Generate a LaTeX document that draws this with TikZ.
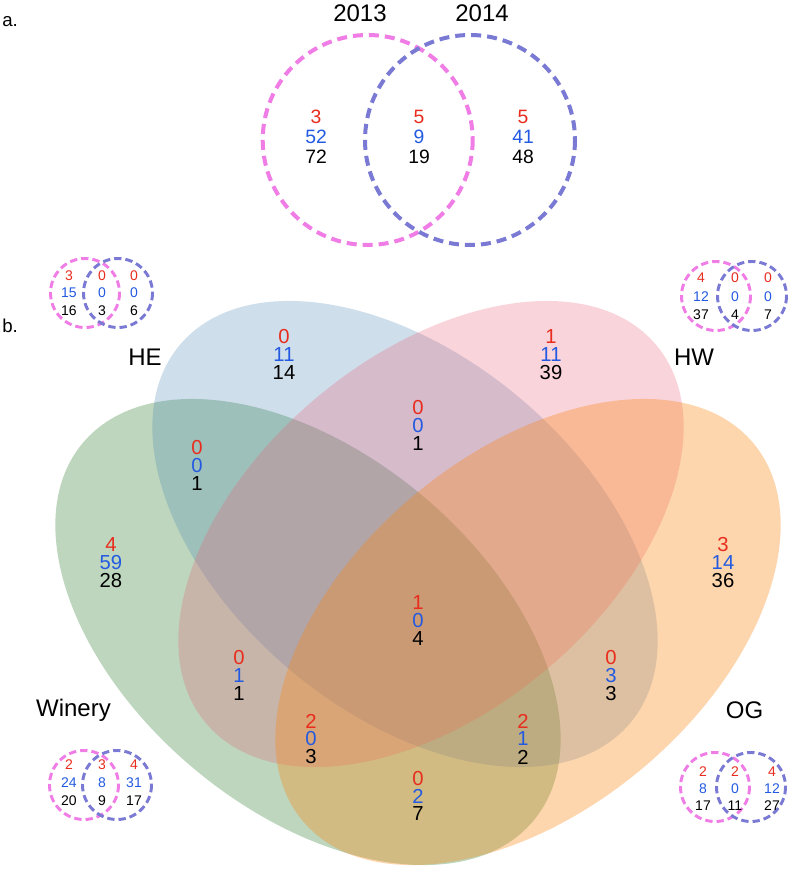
\documentclass[tikz,border=0pt]{standalone}
\usepackage{fontspec}
\setmainfont{Liberation Sans}
\definecolor{nred}{RGB}{232,45,30}
\definecolor{nblue}{RGB}{35,90,225}
\definecolor{dpink}{RGB}{240,125,230}
\definecolor{dblue}{RGB}{122,122,212}
\definecolor{cgreen}{RGB}{0,100,0}
\definecolor{cblue}{RGB}{70,130,180}
\definecolor{cpink}{RGB}{235,90,115}
\definecolor{corange}{RGB}{250,135,20}
\tikzset{
  numA/.style={font=\fontsize{14.5}{16}\selectfont, inner sep=0pt},
  numB/.style={font=\fontsize{15.2}{17}\selectfont, inner sep=0pt},
  numS/.style={font=\fontsize{10.5}{12}\selectfont, inner sep=0pt},
  lab/.style={font=\fontsize{18}{20}\selectfont, inner sep=0pt, anchor=base},
  panel/.style={font=\fontsize{14}{15}\selectfont, inner sep=0pt, anchor=base west},
  bigpink/.style={draw=dpink, line width=3pt, dash pattern=on 7.5pt off 4.5pt},
  bigblue/.style={draw=dblue, line width=3pt, dash pattern=on 7.5pt off 4.5pt},
  smpink/.style={draw=dpink, line width=2.2pt, dash pattern=on 5.5pt off 3pt},
  smblue/.style={draw=dblue, line width=2.2pt, dash pattern=on 5.5pt off 3pt},
  setfill/.style={fill opacity=0.26}
}
\newcommand{\trip}[8]{%
  \node[#5,text=nred] (#1r) at (#2,#3-#4) {#6};
  \node[#5,text=nblue] (#1b) at (#2,#3) {#7};
  \node[#5] (#1k) at (#2,#3+#4) {#8};}
\begin{document}
\begin{tikzpicture}[x=0.75pt,y=-0.75pt]
\useasboundingbox[fill=white] (0,0) rectangle (791,870);

% ---------- panel a ----------
\node[panel] (pa) at (2,27) {a.};
\node[lab] (y13) at (360,21.5) {2013};
\node[lab] (y14) at (482,21.5) {2014};
\path[bigpink] (367.7,140) circle [radius=105];
\path[bigblue] (470,140) circle [radius=105];
\trip{aL}{316}{137}{20}{numA}{3}{52}{72}
\trip{aM}{419}{137}{20}{numA}{5}{9}{19}
\trip{aR}{523}{137}{20}{numA}{5}{41}{48}

% ---------- panel b ----------
\node[panel] (pb) at (2,332) {b.};
\begin{scope}[setfill]
  \fill[cgreen, rotate around={-40:(308,632)}] (308,632) ellipse [x radius=294, y radius=178];
  \fill[cblue, rotate around={-40:(405,534)}] (405,534) ellipse [x radius=294, y radius=178];
  \fill[cpink, rotate around={40:(431,534)}] (431,534) ellipse [x radius=294, y radius=178];
  \fill[corange, fill opacity=0.34, rotate around={40:(528,632)}] (528,632) ellipse [x radius=294, y radius=178];
\end{scope}

\node[lab] (lHE) at (145,365) {HE};
\node[lab] (lHW) at (694,365) {HW};
\node[lab] (lW) at (73.5,716) {Winery};
\node[lab] (lOG) at (744.5,718) {OG};

\trip{he}{284}{355}{18}{numB}{0}{11}{14}
\trip{hw}{551}{355}{18}{numB}{1}{11}{39}
\trip{whe}{197}{466}{18}{numB}{0}{0}{1}
\trip{hehw}{418}{426}{18}{numB}{0}{0}{1}
\trip{w}{111}{563}{18}{numB}{4}{59}{28}
\trip{og}{723}{563}{18}{numB}{3}{14}{36}
\trip{all}{418}{621}{18}{numB}{1}{0}{4}
\trip{whw}{239}{676}{18}{numB}{0}{1}{1}
\trip{heog}{611}{676}{18}{numB}{0}{3}{3}
\trip{whwog}{311}{739}{18}{numB}{2}{0}{3}
\trip{wheog}{523}{739}{18}{numB}{2}{1}{2}
\trip{wog}{418}{796}{17.5}{numB}{0}{2}{7}

% ---------- small venns ----------
% top left (HE)
\path[smpink] (85,293) circle [radius=34.5];
\path[smblue] (118,293) circle [radius=34.5];
\trip{tlA}{69}{293}{17.5}{numS}{3}{15}{16}
\trip{tlB}{102}{293}{17.5}{numS}{0}{0}{3}
\trip{tlC}{134}{293}{17.5}{numS}{0}{0}{6}
% top right (HW)
\path[smpink] (716,296) circle [radius=34.5];
\path[smblue] (752,296) circle [radius=34.5];
\trip{trA}{701}{296.5}{18.5}{numS}{4}{12}{37}
\trip{trB}{735}{296.5}{18.5}{numS}{0}{0}{4}
\trip{trC}{768}{296.5}{18.5}{numS}{0}{0}{7}
% bottom left (Winery)
\path[smpink] (84,785) circle [radius=34.5];
\path[smblue] (117,785) circle [radius=34.5];
\trip{blA}{69}{783}{18}{numS}{2}{24}{20}
\trip{blB}{102}{783}{18}{numS}{3}{8}{9}
\trip{blC}{134}{783}{18}{numS}{4}{31}{17}
% bottom right (OG)
\path[smpink] (715,787) circle [radius=34.5];
\path[smblue] (751,787) circle [radius=34.5];
\trip{brA}{703}{789}{17}{numS}{2}{8}{17}
\trip{brB}{735}{789}{17}{numS}{2}{0}{11}
\trip{brC}{772}{789}{17}{numS}{4}{12}{27}
\end{tikzpicture}
\end{document}
